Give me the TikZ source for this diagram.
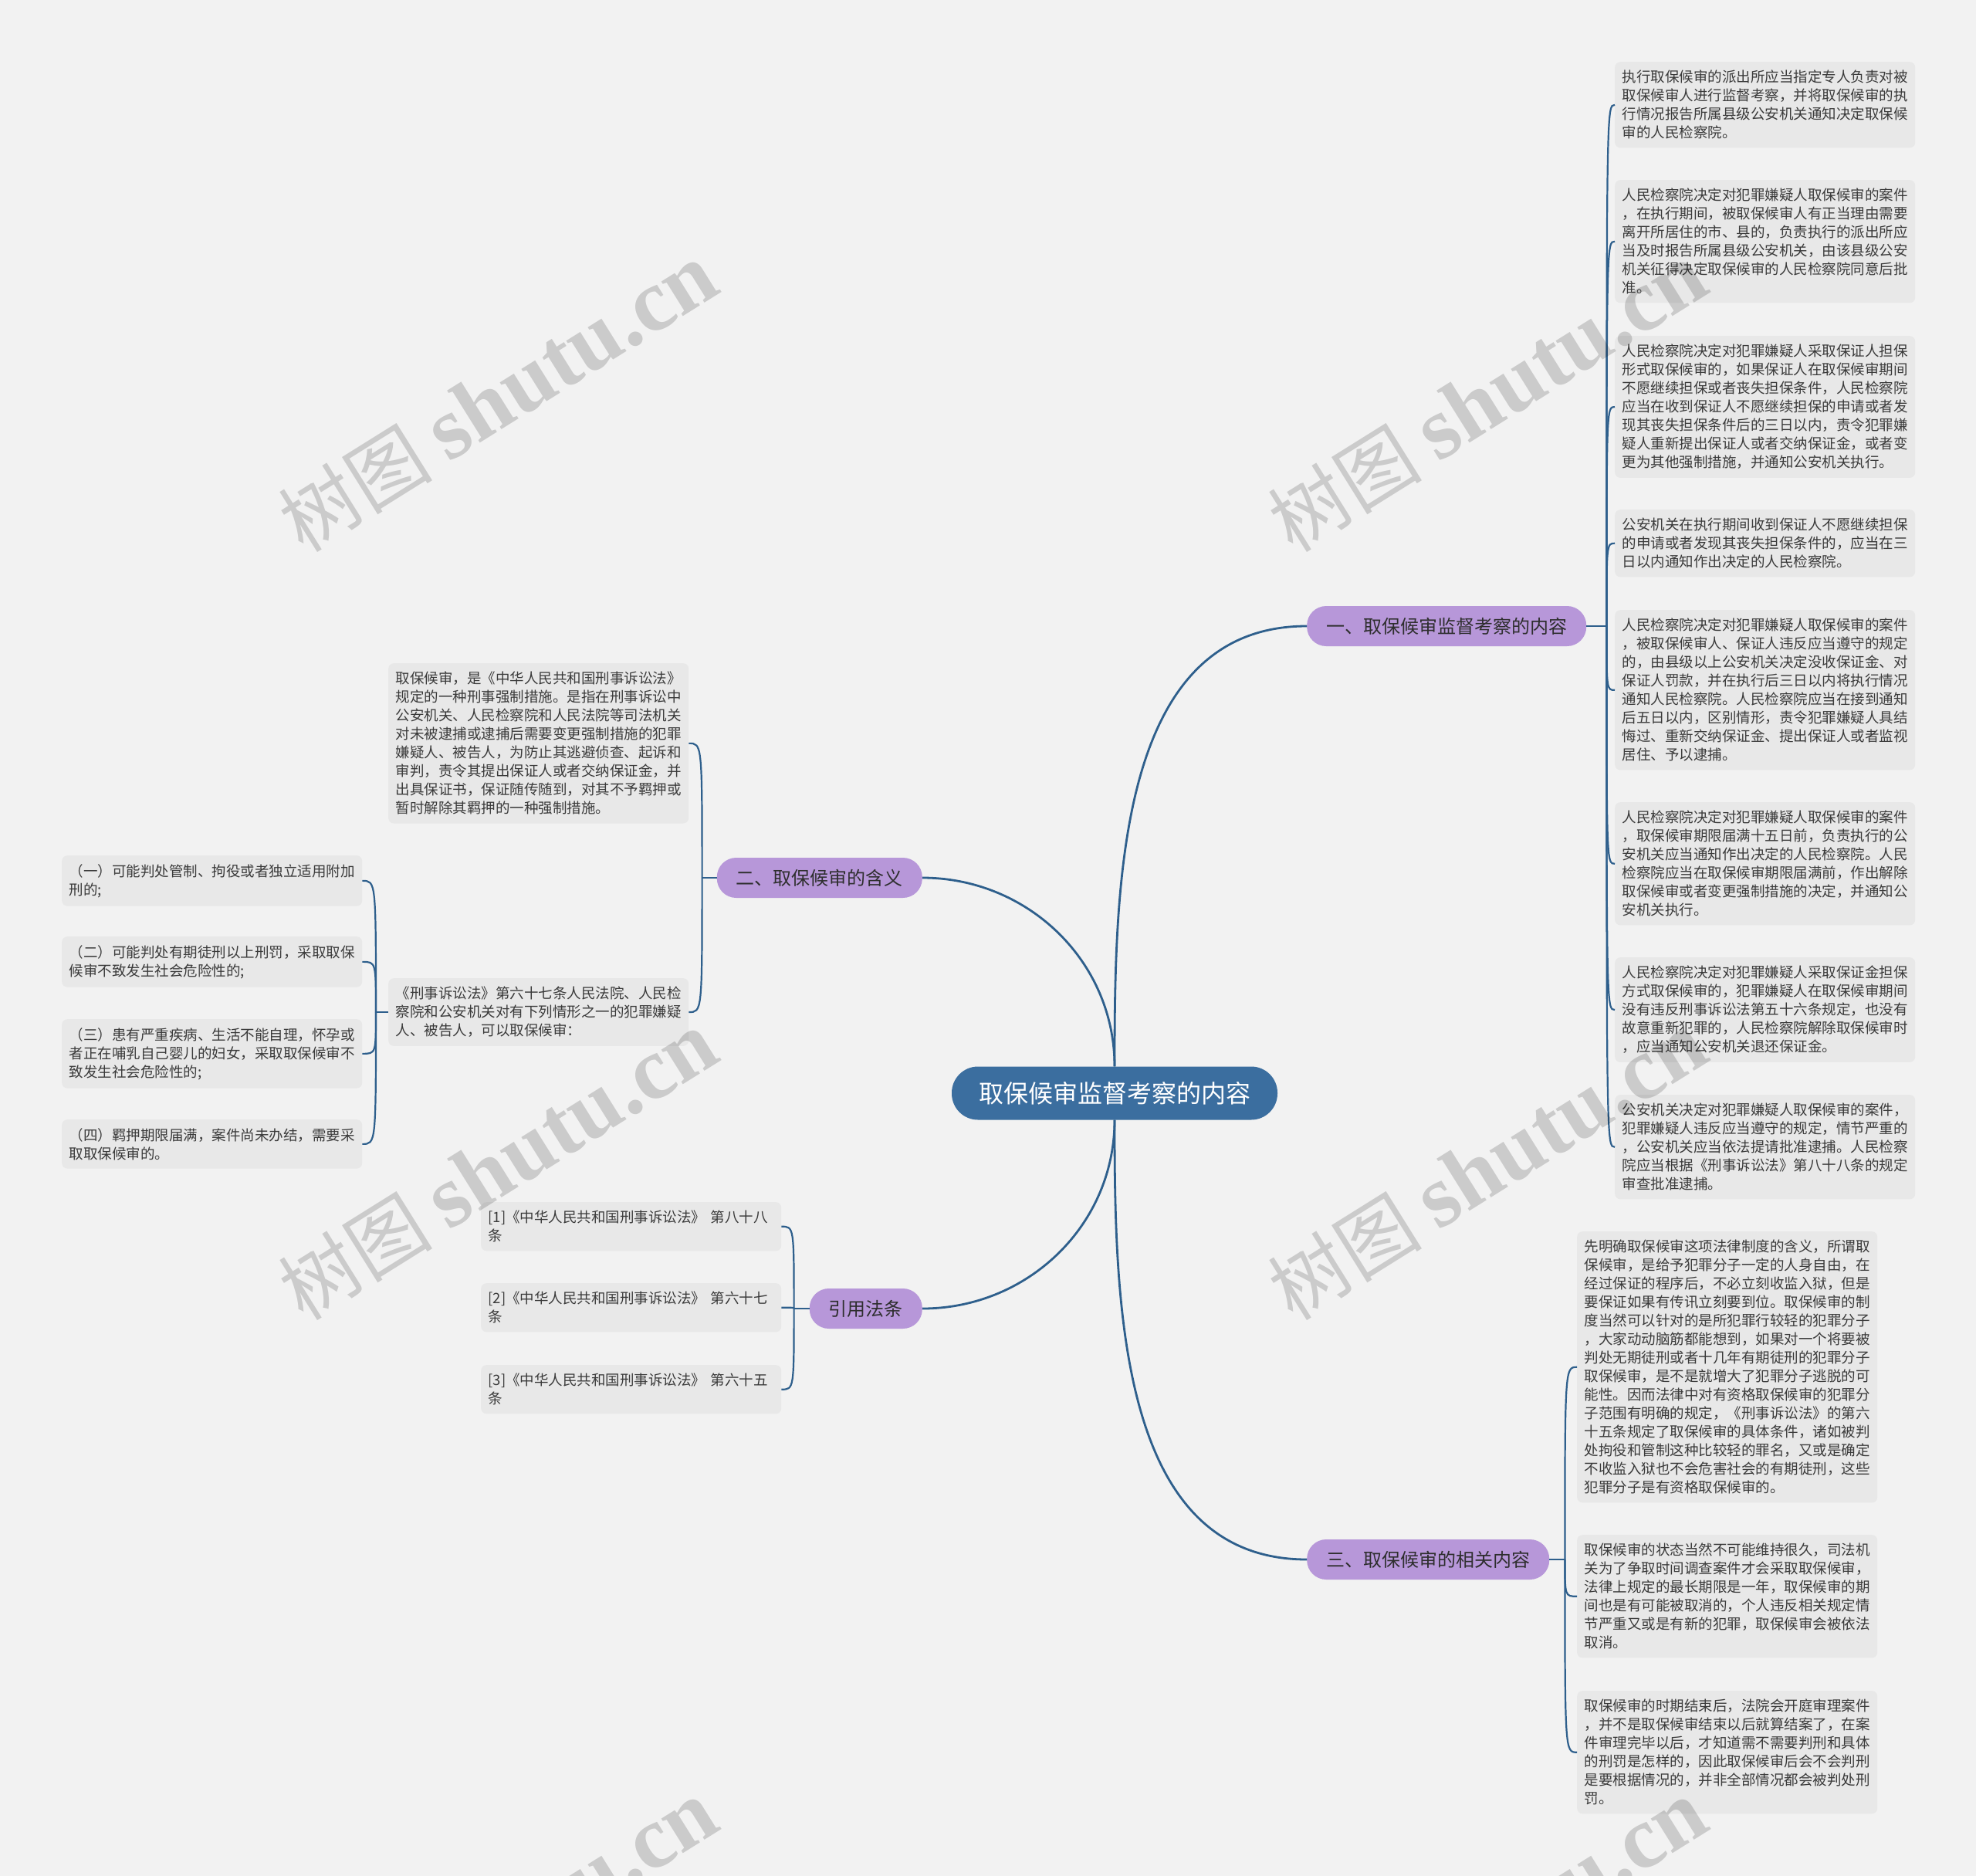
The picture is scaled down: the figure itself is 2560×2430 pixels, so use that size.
\documentclass[tikz,border=0pt]{standalone}
\usepackage{fontspec}
\setmainfont{Noto Sans CJK SC}
\newfontfamily\wmserif{Liberation Serif}
\usepackage{xcolor}
\usepackage{tikz}
\usetikzlibrary{positioning, calc}

\definecolor{bggray}{HTML}{F2F2F2}
\definecolor{leafgray}{HTML}{E8E8E8}
\definecolor{leaftext}{HTML}{3A3A3A}
\definecolor{rootblue}{HTML}{3B6E9F}
\definecolor{branchpurple}{HTML}{B797D9}
\definecolor{branchtext}{HTML}{2E2E2E}
\definecolor{linkblue}{HTML}{2E5F8C}

\begin{document}
\begin{tikzpicture}[
    x=1pt, y=-1pt,
    rootbox/.style={rectangle, fill=rootblue, rounded corners=34pt, minimum height=69pt, inner xsep=35pt, text=white, font=\fontsize{32}{40}\selectfont},
    branchbox/.style={rectangle, fill=branchpurple, rounded corners=25pt, minimum height=52pt, inner xsep=25pt, text=branchtext, font=\fontsize{24}{30}\selectfont},
    leafbox/.style={rectangle, fill=leafgray, rounded corners=7pt, text width=370pt, inner xsep=9.5pt, inner ysep=11pt, align=left, anchor=north west, text=leaftext, font=\fontsize{18.5}{24}\selectfont},
    link/.style={draw=linkblue, line width=2.8pt},
    sublink/.style={draw=linkblue, line width=2.2pt},
    watermark/.style={text=black, opacity=0.16, rotate=32, font=\fontsize{100}{100}\selectfont}
]

    % ================= CANVAS =================
    \fill[bggray] (0,0) rectangle (2560,2430);
    \useasboundingbox (0,0) rectangle (2560,2430);

    % ================= ROOT AND BRANCHES =================
    \node[rootbox] (root) at (1444,1416) {取保候审监督考察的内容};

    \node[branchbox, anchor=west] (b1) at (1693,811) {一、取保候审监督考察的内容};
    \node[branchbox, anchor=east] (b2) at (1195,1137) {二、取保候审的含义};
    \node[branchbox, anchor=east] (b3) at (1195,1695) {引用法条};
    \node[branchbox, anchor=west] (b4) at (1693,2020) {三、取保候审的相关内容};

    \draw[link] (root.north) to[out=90, in=180] (b1.west);
    \draw[link] (root.north) to[out=90, in=0] (b2.east);
    \draw[link] (root.south) to[out=-90, in=0] (b3.east);
    \draw[link] (root.south) to[out=-90, in=180] (b4.west);

    % ================= BRANCH 1: SUPERVISION =================
    \node[leafbox] (l1) at (2092,80) {执行取保候审的派出所应当指定专人负责对被\\
        取保候审人进行监督考察，并将取保候审的执\\
        行情况报告所属县级公安机关通知决定取保候\\
        审的人民检察院。};
    \node[leafbox] (l2) at (2092,233) {人民检察院决定对犯罪嫌疑人取保候审的案件\\
        ，在执行期间，被取保候审人有正当理由需要\\
        离开所居住的市、县的，负责执行的派出所应\\
        当及时报告所属县级公安机关，由该县级公安\\
        机关征得决定取保候审的人民检察院同意后批\\
        准。};
    \node[leafbox] (l3) at (2092,435) {人民检察院决定对犯罪嫌疑人采取保证人担保\\
        形式取保候审的，如果保证人在取保候审期间\\
        不愿继续担保或者丧失担保条件，人民检察院\\
        应当在收到保证人不愿继续担保的申请或者发\\
        现其丧失担保条件后的三日以内，责令犯罪嫌\\
        疑人重新提出保证人或者交纳保证金，或者变\\
        更为其他强制措施，并通知公安机关执行。};
    \node[leafbox] (l4) at (2092,660) {公安机关在执行期间收到保证人不愿继续担保\\
        的申请或者发现其丧失担保条件的，应当在三\\
        日以内通知作出决定的人民检察院。};
    \node[leafbox] (l5) at (2092,790) {人民检察院决定对犯罪嫌疑人取保候审的案件\\
        ，被取保候审人、保证人违反应当遵守的规定\\
        的，由县级以上公安机关决定没收保证金、对\\
        保证人罚款，并在执行后三日以内将执行情况\\
        通知人民检察院。人民检察院应当在接到通知\\
        后五日以内，区别情形，责令犯罪嫌疑人具结\\
        悔过、重新交纳保证金、提出保证人或者监视\\
        居住、予以逮捕。};
    \node[leafbox] (l6) at (2092,1039) {人民检察院决定对犯罪嫌疑人取保候审的案件\\
        ，取保候审期限届满十五日前，负责执行的公\\
        安机关应当通知作出决定的人民检察院。人民\\
        检察院应当在取保候审期限届满前，作出解除\\
        取保候审或者变更强制措施的决定，并通知公\\
        安机关执行。};
    \node[leafbox] (l7) at (2092,1240) {人民检察院决定对犯罪嫌疑人采取保证金担保\\
        方式取保候审的，犯罪嫌疑人在取保候审期间\\
        没有违反刑事诉讼法第五十六条规定，也没有\\
        故意重新犯罪的，人民检察院解除取保候审时\\
        ，应当通知公安机关退还保证金。};
    \node[leafbox] (l8) at (2092,1418) {公安机关决定对犯罪嫌疑人取保候审的案件，\\
        犯罪嫌疑人违反应当遵守的规定，情节严重的\\
        ，公安机关应当依法提请批准逮捕。人民检察\\
        院应当根据《刑事诉讼法》第八十八条的规定\\
        审查批准逮捕。};

    \coordinate[right=26pt of b1] (h1);
    \draw[sublink] (b1.east) -- (h1);
    \foreach \i in {1,...,8}
        \draw[sublink] (h1) .. controls (h1 |- l\i.west) .. (l\i.west);

    % ================= BRANCH 2: MEANING =================
    \node[leafbox] (m1) at (503,859) {取保候审，是《中华人民共和国刑事诉讼法》\\
        规定的一种刑事强制措施。是指在刑事诉讼中\\
        公安机关、人民检察院和人民法院等司法机关\\
        对未被逮捕或逮捕后需要变更强制措施的犯罪\\
        嫌疑人、被告人，为防止其逃避侦查、起诉和\\
        审判，责令其提出保证人或者交纳保证金，并\\
        出具保证书，保证随传随到，对其不予羁押或\\
        暂时解除其羁押的一种强制措施。};
    \node[leafbox] (m2) at (503,1267) {《刑事诉讼法》第六十七条人民法院、人民检\\
        察院和公安机关对有下列情形之一的犯罪嫌疑\\
        人、被告人，可以取保候审：};

    \coordinate[left=19pt of b2] (h2);
    \draw[sublink] (b2.west) -- (h2);
    \foreach \i in {1,2}
        \draw[sublink] (h2) .. controls (h2 |- m\i.east) .. (m\i.east);

    % the four cases under article 67
    \node[leafbox] (n1) at (80,1108) {（一）可能判处管制、拘役或者独立适用附加\\
        刑的;};
    \node[leafbox] (n2) at (80,1213) {（二）可能判处有期徒刑以上刑罚，采取取保\\
        候审不致发生社会危险性的;};
    \node[leafbox] (n3) at (80,1320) {（三）患有严重疾病、生活不能自理，怀孕或\\
        者正在哺乳自己婴儿的妇女，采取取保候审不\\
        致发生社会危险性的;};
    \node[leafbox] (n4) at (80,1450) {（四）羁押期限届满，案件尚未办结，需要采\\
        取取保候审的。};

    \coordinate[left=16pt of m2] (hm);
    \draw[sublink] (m2.west) -- (hm);
    \foreach \i in {1,...,4}
        \draw[sublink] (hm) .. controls (hm |- n\i.east) .. (n\i.east);

    % ================= BRANCH 3: CITED LAWS =================
    \node[leafbox] (r1) at (623,1557) {[1]《中华人民共和国刑事诉讼法》~第八十八\\
        条};
    \node[leafbox] (r2) at (623,1662) {[2]《中华人民共和国刑事诉讼法》~第六十七\\
        条};
    \node[leafbox] (r3) at (623,1768) {[3]《中华人民共和国刑事诉讼法》~第六十五\\
        条};

    \coordinate[left=20pt of b3] (h3);
    \draw[sublink] (b3.west) -- (h3);
    \foreach \i in {1,2,3}
        \draw[sublink] (h3) .. controls (h3 |- r\i.east) .. (r\i.east);

    % ================= BRANCH 4: RELATED CONTENT =================
    \node[leafbox] (s1) at (2043,1595) {先明确取保候审这项法律制度的含义，所谓取\\
        保候审，是给予犯罪分子一定的人身自由，在\\
        经过保证的程序后，不必立刻收监入狱，但是\\
        要保证如果有传讯立刻要到位。取保候审的制\\
        度当然可以针对的是所犯罪行较轻的犯罪分子\\
        ，大家动动脑筋都能想到，如果对一个将要被\\
        判处无期徒刑或者十几年有期徒刑的犯罪分子\\
        取保候审，是不是就增大了犯罪分子逃脱的可\\
        能性。因而法律中对有资格取保候审的犯罪分\\
        子范围有明确的规定，《刑事诉讼法》的第六\\
        十五条规定了取保候审的具体条件，诸如被判\\
        处拘役和管制这种比较轻的罪名，又或是确定\\
        不收监入狱也不会危害社会的有期徒刑，这些\\
        犯罪分子是有资格取保候审的。};
    \node[leafbox] (s2) at (2043,1988) {取保候审的状态当然不可能维持很久，司法机\\
        关为了争取时间调查案件才会采取取保候审，\\
        法律上规定的最长期限是一年，取保候审的期\\
        间也是有可能被取消的，个人违反相关规定情\\
        节严重又或是有新的犯罪，取保候审会被依法\\
        取消。};
    \node[leafbox] (s3) at (2043,2190) {取保候审的时期结束后，法院会开庭审理案件\\
        ，并不是取保候审结束以后就算结案了，在案\\
        件审理完毕以后，才知道需不需要判刑和具体\\
        的刑罚是怎样的，因此取保候审后会不会判刑\\
        是要根据情况的，并非全部情况都会被判处刑\\
        罚。};

    \coordinate[right=20pt of b4] (h4);
    \draw[sublink] (b4.east) -- (h4);
    \foreach \i in {1,2,3}
        \draw[sublink] (h4) .. controls (h4 |- s\i.west) .. (s\i.west);

    % ================= WATERMARKS =================
    \begin{scope}
        \clip (0,0) rectangle (2560,2430);
        \foreach \wx/\wy [count=\k] in {645/515, 1927/515, 645/1510, 1927/1510, 645/2506, 1927/2506}
            \node[watermark] (wm\k) at (\wx,\wy) {树图 {\wmserif\bfseries\fontsize{115}{115}\selectfont shutu.cn}};
    \end{scope}

\end{tikzpicture}
\end{document}
